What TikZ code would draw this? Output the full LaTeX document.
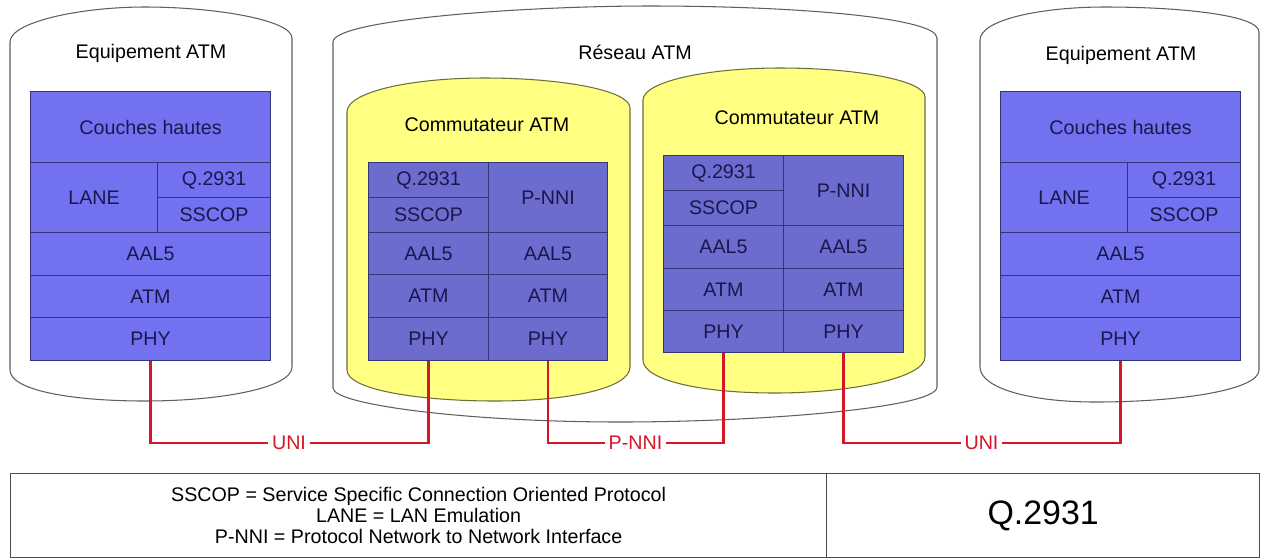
\documentclass[tikz,border=0pt]{standalone}
\usepackage{fontspec}
\setmainfont{Liberation Sans}
\usetikzlibrary{positioning}
\definecolor{atmeq}{RGB}{114,114,240}
\definecolor{atmsw}{RGB}{108,108,206}
\definecolor{atmline}{RGB}{52,52,120}
\definecolor{atmtext}{RGB}{24,24,78}
\definecolor{atmyellow}{RGB}{255,255,130}
\definecolor{atmolive}{RGB}{110,110,60}
\definecolor{atmred}{RGB}{212,22,40}
\definecolor{atmgray}{RGB}{95,95,95}

\begin{document}
\begin{tikzpicture}[
            x=0.02cm, y=-0.02cm,
            font=\fontsize{11.2}{13}\selectfont,
            cyl/.style={draw=atmgray, line width=0.6pt, fill=white},
            sw/.style={draw=atmolive, line width=0.6pt, fill=atmyellow},
            title/.style={text=black, inner sep=1pt},
            stackcell/.style 2 args={rectangle, draw=atmline, line width=0.6pt, text=atmtext, anchor=north west, inner sep=0pt, minimum width=#1*0.02cm, minimum height=#2*0.02cm},
            eqcell/.style 2 args={stackcell={#1}{#2}, fill=atmeq},
            swcell/.style 2 args={stackcell={#1}{#2}, fill=atmsw},
            lgdcell/.style 2 args={rectangle, draw=atmgray!80!black, line width=0.7pt, anchor=north west, align=center, minimum width=#1*0.02cm, minimum height=#2*0.02cm},
            link/.style={draw=atmred, line width=1.4pt},
            lbl/.style={text=atmred, inner sep=2pt}
        ]
            \useasboundingbox (0,0) rectangle (1261,559);
            % cylinders
            \draw[cyl] (333,42) .. controls (333,20) and (520,6) .. (650,6) .. controls (800,6) and (937,18) .. (937,38) -- (937,387) .. controls (937,408) and (760,422) .. (620,422) .. controls (470,422) and (333,405) .. (333,388) -- cycle;
            \draw[sw] (347,112) .. controls (347,92) and (410,78) .. (485,78) .. controls (560,78) and (630,90) .. (630,108) -- (630,367) .. controls (630,388) and (570,401) .. (495,401) .. controls (420,401) and (347,390) .. (347,370) -- cycle;
            \draw[sw] (643,100) .. controls (643,82) and (705,68) .. (780,68) .. controls (855,68) and (925,80) .. (925,97) -- (925,357) .. controls (925,378) and (850,393) .. (775,393) .. controls (700,393) and (643,380) .. (643,360) -- cycle;
            \draw[cyl] (10,42) .. controls (10,22) and (80,7) .. (145,7) .. controls (215,7) and (292,20) .. (292,38) -- (292,367) .. controls (292,388) and (220,401) .. (145,401) .. controls (70,401) and (10,390) .. (10,370) -- cycle;
            \draw[cyl] (980,40) .. controls (980,20) and (1040,7) .. (1105,7) .. controls (1180,7) and (1259,15) .. (1259,32) -- (1259,370) .. controls (1259,390) and (1180,402) .. (1095,402) .. controls (1030,402) and (980,388) .. (980,367) -- cycle;

            \node[title] (eqltitle) at (151,53) {Equipement ATM};
            \node[title] (nettitle) at (635,52) {Réseau ATM};
            \node[title] (swatitle) at (487,125) {Commutateur ATM};
            \node[title] (swbtitle) at (797,118) {Commutateur ATM};
            \node[title] (eqrtitle) at (1121,55) {Equipement ATM};

            % left equipment
            \node[eqcell={240}{71}] (eqlhigh) at (30,91) {Couches hautes};
            \node[eqcell={127}{70}] (eqllane) at (30,162) {LANE};
            \node[eqcell={113}{35}] (eqlq) at (157,162) {Q.2931};
            \node[eqcell={113}{35}] (eqlsscop) at (157,197) {SSCOP};
            \node[eqcell={240}{43}] (eqlaal) at (30,232) {AAL5};
            \node[eqcell={240}{42}] (eqlatm) at (30,275) {ATM};
            \node[eqcell={240}{43}] (eqlphy) at (30,317) {PHY};

            % switch 1
            \node[swcell={120}{35}] (swaq) at (368,162) {Q.2931};
            \node[swcell={120}{35}] (swasscop) at (368,197) {SSCOP};
            \node[swcell={119}{70}] (swapnni) at (488,162) {P-NNI};
            \node[swcell={120}{42}] (swaaala) at (368,232) {AAL5};
            \node[swcell={119}{42}] (swaaalb) at (488,232) {AAL5};
            \node[swcell={120}{43}] (swaatma) at (368,274) {ATM};
            \node[swcell={119}{43}] (swaatmb) at (488,274) {ATM};
            \node[swcell={120}{43}] (swaphya) at (368,317) {PHY};
            \node[swcell={119}{43}] (swaphyb) at (488,317) {PHY};

            % switch 2
            \node[swcell={120}{35}] (swbq) at (663,155) {Q.2931};
            \node[swcell={120}{35}] (swbsscop) at (663,190) {SSCOP};
            \node[swcell={120}{70}] (swbpnni) at (783,155) {P-NNI};
            \node[swcell={120}{43}] (swbaala) at (663,225) {AAL5};
            \node[swcell={120}{43}] (swbaalb) at (783,225) {AAL5};
            \node[swcell={120}{42}] (swbatma) at (663,268) {ATM};
            \node[swcell={120}{42}] (swbatmb) at (783,268) {ATM};
            \node[swcell={120}{42}] (swbphya) at (663,310) {PHY};
            \node[swcell={120}{42}] (swbphyb) at (783,310) {PHY};

            % right equipment
            \node[eqcell={240}{71}] (eqrhigh) at (1000,91) {Couches hautes};
            \node[eqcell={127}{70}] (eqrlane) at (1000,162) {LANE};
            \node[eqcell={113}{35}] (eqrq) at (1127,162) {Q.2931};
            \node[eqcell={113}{35}] (eqrsscop) at (1127,197) {SSCOP};
            \node[eqcell={240}{43}] (eqraal) at (1000,232) {AAL5};
            \node[eqcell={240}{42}] (eqratm) at (1000,275) {ATM};
            \node[eqcell={240}{43}] (eqrphy) at (1000,317) {PHY};

            % links
            \node[lbl] (unil) at (289,443) {UNI};
            \node[lbl] (pnni) at (635.5,443) {P-NNI};
            \node[lbl] (unir) at (981.5,443) {UNI};
            \draw[link] (eqlphy.south) |- (unil) -| (swaphya.south);
            \draw[link] (swaphyb.south) |- (pnni) -| (swbphya.south);
            \draw[link] (swbphyb.south) |- (unir) -| (eqrphy.south);

            % legend
            \node[lgdcell={816}{84}, font=\fontsize{11.2}{12}\selectfont] (legdefs) at (10,473) {SSCOP = Service Specific Connection Oriented Protocol\\LANE = LAN Emulation\\P-NNI = Protocol Network to Network Interface};
            \node[lgdcell={433}{84}, font=\fontsize{19.3}{22}\selectfont] (legq) at (826,473) {Q.2931};
        \end{tikzpicture}
\end{document}
